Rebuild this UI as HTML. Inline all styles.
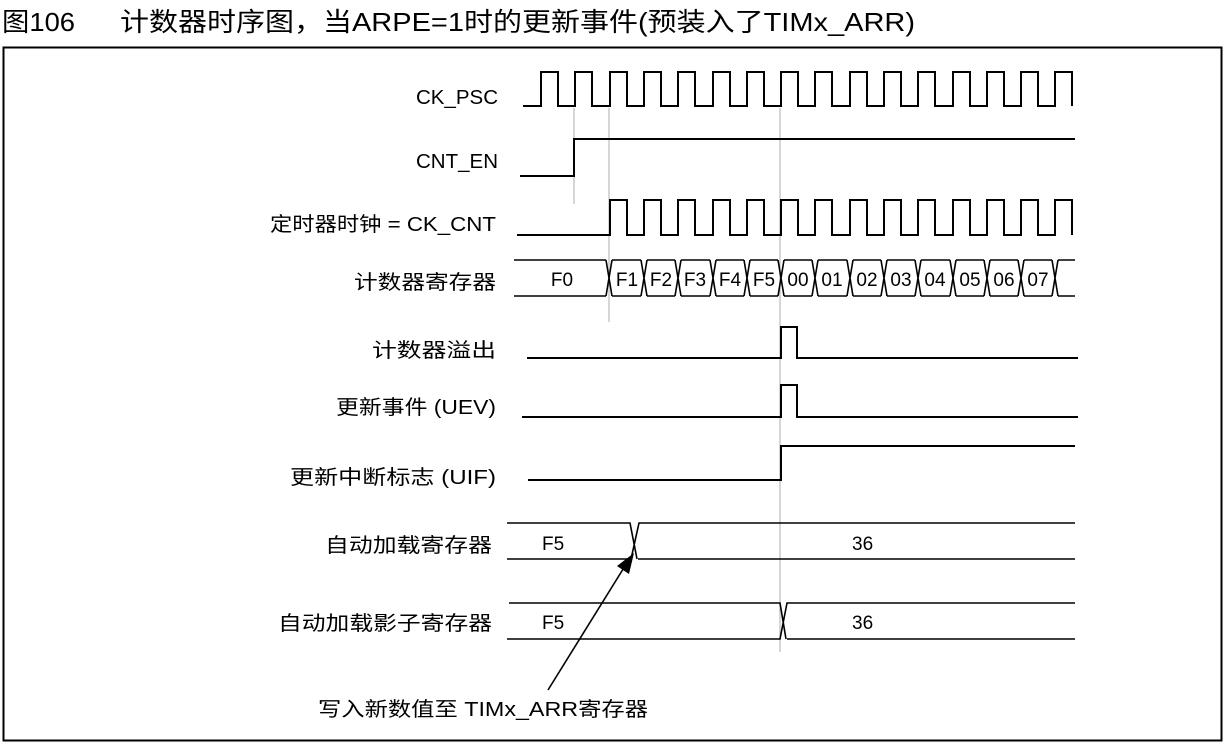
<!DOCTYPE html>
<html><head><meta charset="utf-8"><style>
html,body{margin:0;padding:0;background:#fff;}
svg{display:block;}
text{font-family:"Liberation Sans","Noto Sans CJK SC",sans-serif;fill:#000;}
</style></head><body>
<svg width="1225" height="744" viewBox="0 0 1225 744" xmlns="http://www.w3.org/2000/svg">
<text x="2" y="31" font-size="26" textLength="73" lengthAdjust="spacingAndGlyphs">图106</text>
<text x="120" y="31" font-size="26" textLength="795" lengthAdjust="spacingAndGlyphs">计数器时序图，当ARPE=1时的更新事件(预装入了TIMx_ARR)</text>
<rect x="3.5" y="47.5" width="1218" height="693" fill="none" stroke="#000" stroke-width="2"/>

<g stroke="#bbb" stroke-width="1.2">
<line x1="574" y1="108" x2="574" y2="204"/>
<line x1="609" y1="108" x2="609" y2="322"/>
<line x1="780" y1="108" x2="780" y2="652"/>
</g>

<g font-size="20" lengthAdjust="spacingAndGlyphs">
<text x="416" y="104" textLength="82" lengthAdjust="spacingAndGlyphs">CK_PSC</text>
<text x="416" y="168" textLength="82" lengthAdjust="spacingAndGlyphs">CNT_EN</text>
<text x="270" y="231" textLength="226" lengthAdjust="spacingAndGlyphs">定时器时钟 = CK_CNT</text>
<text x="354" y="289" textLength="142" lengthAdjust="spacingAndGlyphs">计数器寄存器</text>
<text x="372" y="357" textLength="124" lengthAdjust="spacingAndGlyphs">计数器溢出</text>
<text x="336" y="414" textLength="160" lengthAdjust="spacingAndGlyphs">更新事件 (UEV)</text>
<text x="290" y="484" textLength="206" lengthAdjust="spacingAndGlyphs">更新中断标志 (UIF)</text>
<text x="325" y="552" textLength="167" lengthAdjust="spacingAndGlyphs">自动加载寄存器</text>
<text x="278" y="630" textLength="214" lengthAdjust="spacingAndGlyphs">自动加载影子寄存器</text>
<text x="318" y="716" textLength="330" lengthAdjust="spacingAndGlyphs">写入新数值至 TIMx_ARR寄存器</text>
</g>

<g fill="none" stroke="#000" stroke-width="2">
<path d="M523 106 H541 V72 H558 V106 H575 V72 H592 V106 H610 V72 H627 V106 H644 V72 H661 V106 H678 V72 H695 V106 H713 V72 H730 V106 H747 V72 H764 V106 H781 V72 H798 V106 H815 V72 H832 V106 H850 V72 H867 V106 H884 V72 H901 V106 H918 V72 H935 V106 H953 V72 H970 V106 H987 V72 H1004 V106 H1021 V72 H1038 V106 H1055 V72 H1072 V106"/>
<path d="M520 176 H574 V139 H1075"/>
<path d="M517 235 H610 V200 H627 V235 H644 V200 H661 V235 H678 V200 H695 V235 H713 V200 H730 V235 H747 V200 H764 V235 H781 V200 H798 V235 H815 V200 H832 V235 H850 V200 H867 V235 H884 V200 H901 V235 H918 V200 H935 V235 H953 V200 H970 V235 H987 V200 H1004 V235 H1021 V200 H1038 V235 H1055 V200 H1072 V235"/>
</g>
<g fill="none" stroke="#000" stroke-width="1.6">
<path d="M514 260 H606 M612 260 H641 M647 260 H675 M681 260 H710 M716 260 H744 M750 260 H778 M784 260 H812 M818 260 H847 M853 260 H881 M887 260 H915 M921 260 H950 M956 260 H984 M990 260 H1018 M1024 260 H1052 M1058 260 H1075"/>
<path d="M514 296 H606 M612 296 H641 M647 296 H675 M681 296 H710 M716 296 H744 M750 296 H778 M784 296 H812 M818 296 H847 M853 296 H881 M887 296 H915 M921 296 H950 M956 296 H984 M990 296 H1018 M1024 296 H1052 M1058 296 H1075"/>
<path d="M606 260 L612 296 M606 296 L612 260 M641 260 L647 296 M641 296 L647 260 M675 260 L681 296 M675 296 L681 260 M710 260 L716 296 M710 296 L716 260 M744 260 L750 296 M744 296 L750 260 M778 260 L784 296 M778 296 L784 260 M812 260 L818 296 M812 296 L818 260 M847 260 L853 296 M847 296 L853 260 M881 260 L887 296 M881 296 L887 260 M915 260 L921 296 M915 296 L921 260 M950 260 L956 296 M950 296 L956 260 M984 260 L990 296 M984 296 L990 260 M1018 260 L1024 296 M1018 296 L1024 260 M1052 260 L1058 296 M1052 296 L1058 260"/>
</g>
<g font-size="19" text-anchor="middle">
<text x="562" y="286">F0</text><text x="627" y="286">F1</text><text x="661" y="286">F2</text><text x="695" y="286">F3</text><text x="730" y="286">F4</text><text x="764" y="286">F5</text><text x="798" y="286">00</text><text x="832" y="286">01</text><text x="867" y="286">02</text><text x="901" y="286">03</text><text x="935" y="286">04</text><text x="970" y="286">05</text><text x="1004" y="286">06</text><text x="1038" y="286">07</text>
</g>

<g fill="none" stroke="#000" stroke-width="2">
<path d="M527 358 H781 V327 H797 V358 H1078"/>
<path d="M522 417 H781 V385 H797 V417 H1078"/>
<path d="M528 480 H781 V446 H1075"/>
</g>
<g fill="none" stroke="#000" stroke-width="1.6">
<path d="M507 523 H630 L637 559 M507 559 H631 L639 523 H1075 M638 559 H1075"/>
<path d="M509 603 H780 L786 639 M507 639 H780 L787 603 H1075 M787 639 H1075"/>
<path d="M548 690 L625 566"/>
</g>
<polygon points="634,553 617,566 629,574" fill="#000"/>
<g font-size="19">
<text x="542" y="550">F5</text><text x="852" y="550">36</text>
<text x="542" y="629">F5</text><text x="852" y="629">36</text>
</g>
</svg>
</body></html>
